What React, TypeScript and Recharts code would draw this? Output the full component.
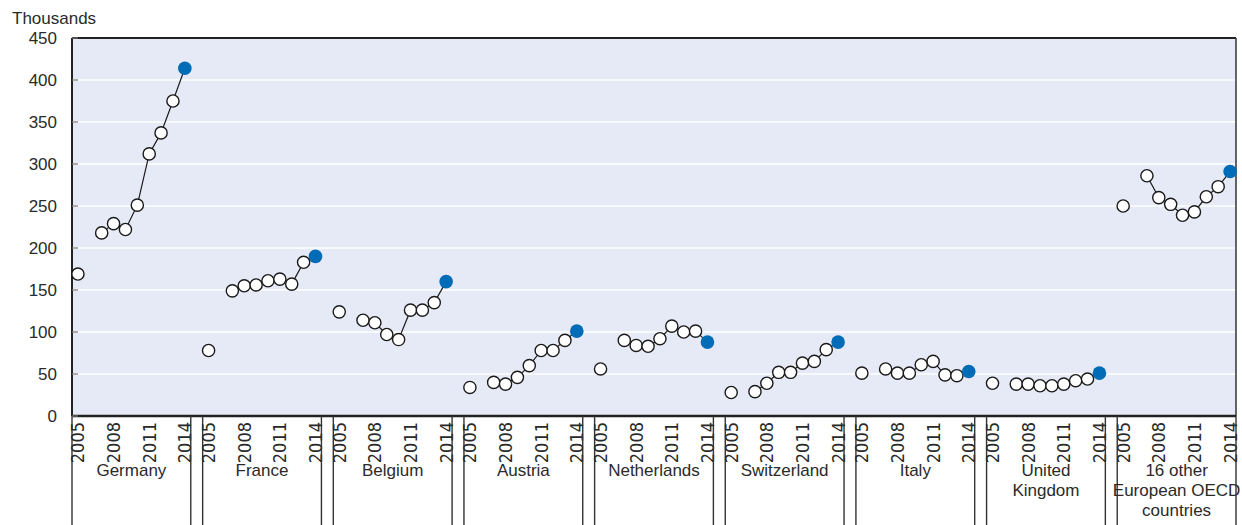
import { LineChart, Line, XAxis, YAxis, CartesianGrid, ReferenceLine } from "recharts";

const FONT = "'Liberation Sans', Arial, sans-serif";
const NARROW = "'Liberation Sans Narrow', 'DejaVu Sans Condensed', 'Liberation Sans', sans-serif";
const INK = "#2a2a2a";
const BLUE = "#006bb6";
const BG = "#e6eaf6";

const countryLabels = [
  ["Germany"],
  ["France"],
  ["Belgium"],
  ["Austria"],
  ["Netherlands"],
  ["Switzerland"],
  ["Italy"],
  ["United", "Kingdom"],
  ["16 other", "European OECD", "countries"],
];
const years = [2005, 2006, 2007, 2008, 2009, 2010, 2011, 2012, 2013, 2014];
const yearTicks = [2005, 2008, 2011, 2014];
const yTicks = [0, 50, 100, 150, 200, 250, 300, 350, 400, 450];

// thousands, 2005..2014 (2006 not available)
const germany = [169, null, 218, 229, 222, 251, 312, 337, 375, 414];
const france = [78, null, 149, 155, 156, 161, 163, 157, 183, 190];
const belgium = [124, null, 114, 111, 97, 91, 126, 126, 135, 160];
const austria = [34, null, 40, 38, 46, 60, 78, 78, 90, 101];
const netherlands = [56, null, 90, 84, 83, 92, 107, 100, 101, 88];
const switzerland = [28, null, 29, 39, 52, 52, 63, 65, 79, 88];
const italy = [51, null, 56, 51, 51, 61, 65, 49, 48, 53];
const unitedKingdom = [39, null, 38, 38, 36, 36, 38, 42, 44, 51];
const otherOecd = [250, null, 286, 260, 252, 239, 243, 261, 273, 291];

const series = [germany, france, belgium, austria, netherlands, switzerland, italy, unitedKingdom, otherOecd];

const SLOT = years.length + 1;

const rows: { pos: number; year: number | null; value: number | null; last: boolean }[] = [];
series.forEach((vals, g) => {
  years.forEach((year, i) =>
    rows.push({ pos: g * SLOT + i, year, value: vals[i], last: i === years.length - 1 })
  );
  if (g < series.length - 1) rows.push({ pos: g * SLOT + years.length, year: null, value: null, last: false });
});

const xTicks: number[] = [];
series.forEach((_, g) => {
  const base = g * SLOT;
  xTicks.push(base - 0.5);
  yearTicks.forEach((y) => xTicks.push(base + years.indexOf(y)));
  xTicks.push(base + (years.length - 1) / 2);
  xTicks.push(base + years.length - 0.5);
});

const XTick = (props: any) => {
  const { x, y, payload } = props;
  const v = payload.value;
  const g = Math.floor((v + 0.5) / SLOT);
  const off = v - g * SLOT;
  if (off === -0.5 || off === years.length - 0.5) {
    return <line x1={x} x2={x} y1={y} y2={y + 120} stroke="#333" strokeWidth={1.4} />;
  }
  if (off === (years.length - 1) / 2) {
    return (
      <text x={x} y={y + 60} textAnchor="middle" fill={INK} fontSize={17} fontFamily={FONT}>
        {countryLabels[g].map((l, i) => (
          <tspan key={i} x={x} dy={i ? 20 : 0}>
            {l}
          </tspan>
        ))}
      </text>
    );
  }
  return (
    <text
      x={x}
      y={y + 6}
      transform={`rotate(-90 ${x} ${y + 6})`}
      textAnchor="end"
      dominantBaseline="central"
      fill={INK}
      fontSize={18}
      fontFamily={NARROW}
    >
      {years[off]}
    </text>
  );
};

const YTick = (props: any) => {
  const { x, y, payload } = props;
  return (
    <g>
      <line x1={x + 15} x2={x + 21} y1={y} y2={y} stroke="#777" strokeWidth={1.2} />
      <text x={x} y={y} textAnchor="end" dominantBaseline="central" fill={INK} fontSize={17} fontFamily={FONT}>
        {payload.value}
      </text>
    </g>
  );
};

const renderDot = (props: any) => {
  const { cx, cy, payload, index } = props;
  if (payload.value == null) return <g key={`d-${index}`} />;
  if (payload.last) return <circle key={`d-${index}`} cx={cx} cy={cy} r={6.8} fill={BLUE} />;
  return <circle key={`d-${index}`} cx={cx} cy={cy} r={6.1} fill="#fff" stroke="#1a1a1a" strokeWidth={1.4} />;
};

export default function App() {
  return (
    <div style={{ position: "fixed", left: 0, top: 0, width: 1242, height: 525, background: "#fff" }}>
      <div
        style={{
          position: "absolute",
          left: 12,
          top: 10,
          fontFamily: FONT,
          fontSize: 17,
          lineHeight: "17px",
          color: INK,
        }}
      >
        Thousands
      </div>
      <LineChart width={1242} height={525} data={rows} margin={{ top: 38, right: 6, left: 0, bottom: 0 }}>
        <CartesianGrid vertical={false} stroke="#fff" strokeWidth={1.6} fill={BG} />
        <XAxis
          type="number"
          dataKey="pos"
          domain={[-0.5, series.length * SLOT - 1.5]}
          ticks={xTicks}
          interval={0}
          height={109}
          tickSize={0}
          tickMargin={0}
          tickLine={false}
          tick={XTick}
          axisLine={{ stroke: "#222", strokeWidth: 2.5 }}
        />
        <YAxis
          domain={[0, 450]}
          ticks={yTicks}
          width={72}
          tickSize={0}
          tickMargin={15}
          tickLine={false}
          tick={YTick}
          axisLine={{ stroke: "#222", strokeWidth: 2 }}
        />
        <ReferenceLine y={450} stroke="#222" strokeWidth={2} />
        <ReferenceLine x={series.length * SLOT - 1.5} stroke="#333" strokeWidth={1.5} />
        <Line
          type="linear"
          dataKey="value"
          stroke="#1a1a1a"
          strokeWidth={1.2}
          dot={renderDot}
          activeDot={false}
          connectNulls={false}
          isAnimationActive={false}
        />
      </LineChart>
    </div>
  );
}
